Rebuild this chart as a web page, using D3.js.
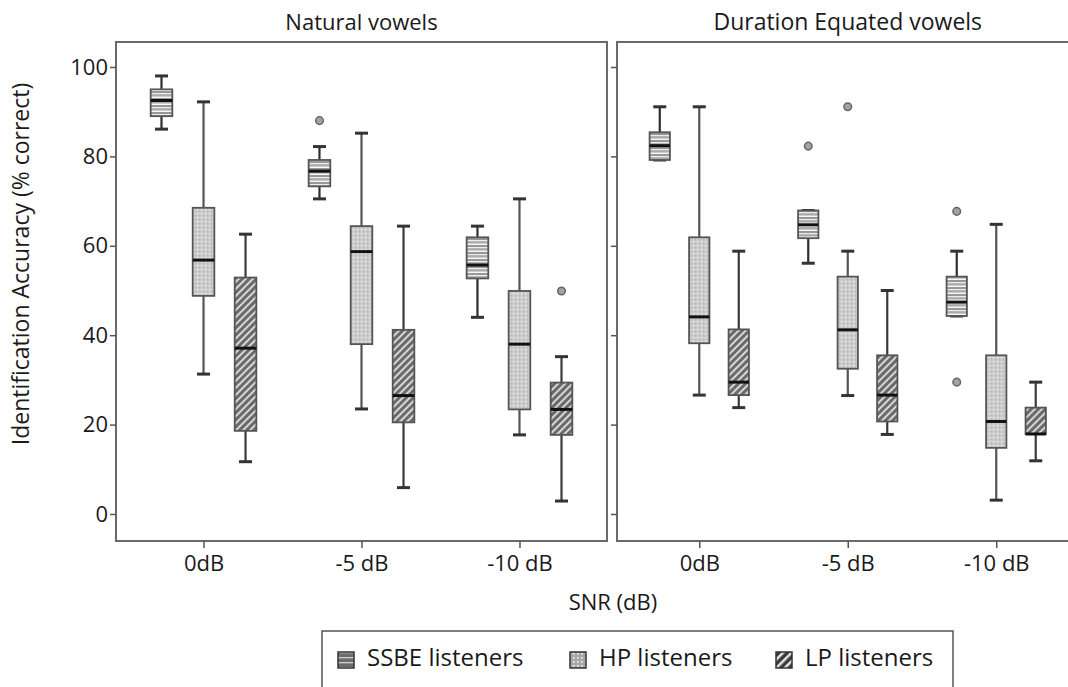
<!DOCTYPE html>
<html>
<head>
<meta charset="utf-8">
<script src="https://cdn.jsdelivr.net/npm/d3@7"></script>
<style>
  html, body { margin: 0; padding: 0; background: #fff; }
  svg { display: block; font-family: "Open Sans", "DejaVu Sans", sans-serif; }
</style>
</head>
<body>
<svg id="chart" width="1068" height="687"></svg>
<script>
// SNR conditions along the x axis, listener groups within each condition
const snrLevels = ["0dB", "-5 dB", "-10 dB"];
const listenerGroups = ["SSBE listeners", "HP listeners", "LP listeners"];
const panelTitles = ["Natural vowels", "Duration Equated vowels"];
const yTicks = [0, 20, 40, 60, 80, 100];

// Box summaries: [min, q1, median, q3, max] per SNR level (0dB, -5 dB, -10 dB)
const naturalSSBE = [[86.1, 89.0, 92.5, 95.0, 98.0], [70.5, 73.3, 76.7, 79.2, 82.2], [44.0, 52.7, 55.7, 61.9, 64.4]];
const naturalHP   = [[31.3, 48.8, 56.8, 68.5, 92.2], [23.5, 38.0, 58.7, 64.4, 85.2], [17.7, 23.4, 38.0, 49.9, 70.5]];
const naturalLP   = [[11.7, 18.6, 37.1, 52.9, 62.6], [5.9, 20.5, 26.5, 41.2, 64.4], [2.9, 17.7, 23.4, 29.4, 35.2]];
const equatedSSBE = [[79.2, 79.2, 82.4, 85.4, 91.1], [56.1, 61.7, 64.7, 67.9, 67.9], [44.3, 44.3, 47.4, 53.1, 58.8]];
const equatedHP   = [[26.6, 38.2, 44.1, 61.9, 91.1], [26.5, 32.5, 41.2, 53.1, 58.8], [3.1, 14.8, 20.7, 35.5, 64.8]];
const equatedLP   = [[23.8, 26.6, 29.5, 41.3, 58.8], [17.8, 20.7, 26.6, 35.5, 50.0], [11.9, 17.9, 17.9, 23.8, 29.5]];

// Outliers per SNR level
const naturalSSBEOut = [[], [88.0], []];
const naturalHPOut   = [[], [], []];
const naturalLPOut   = [[], [], [49.9]];
const equatedSSBEOut = [[], [82.3], [67.7, 29.5]];
const equatedHPOut   = [[], [91.1], []];
const equatedLPOut   = [[], [], []];

const panelData = [
  { title: panelTitles[0], boxes: [naturalSSBE, naturalHP, naturalLP], outliers: [naturalSSBEOut, naturalHPOut, naturalLPOut] },
  { title: panelTitles[1], boxes: [equatedSSBE, equatedHP, equatedLP], outliers: [equatedSSBEOut, equatedHPOut, equatedLPOut] }
];

const FONT = 22;
const LEGEND_FONT = 24;
const TEXT_COLOR = "#1a1a1a";

const svg = d3.select("#chart");
const defs = svg.append("defs");

// Fill textures for the three listener groups
const pSSBE = defs.append("pattern").attr("id", "fill-ssbe")
  .attr("patternUnits", "userSpaceOnUse").attr("width", 8).attr("height", 7);
pSSBE.append("rect").attr("width", 8).attr("height", 7).attr("fill", "#989898");
pSSBE.append("rect").attr("y", 2).attr("width", 8).attr("height", 1.5).attr("fill", "#ececec");
pSSBE.append("rect").attr("y", 3.5).attr("width", 8).attr("height", 2).attr("fill", "#aaaaaa");
pSSBE.append("rect").attr("y", 5.5).attr("width", 8).attr("height", 1.5).attr("fill", "#f7f7f7");

const pHP = defs.append("pattern").attr("id", "fill-hp")
  .attr("patternUnits", "userSpaceOnUse").attr("width", 4).attr("height", 4);
pHP.append("rect").attr("width", 4).attr("height", 4).attr("fill", "#c9c9c9");
pHP.append("rect").attr("x", 1).attr("y", 1).attr("width", 1.3).attr("height", 1.3).attr("fill", "#f4f4f4");
pHP.append("rect").attr("x", 3).attr("y", 3).attr("width", 1).attr("height", 1).attr("fill", "#b4b4b4");

const pLP = defs.append("pattern").attr("id", "fill-lp")
  .attr("patternUnits", "userSpaceOnUse").attr("width", 5).attr("height", 5)
  .attr("patternTransform", "rotate(45)");
pLP.append("rect").attr("width", 5).attr("height", 5).attr("fill", "#6a6a6a");
pLP.append("rect").attr("x", 0).attr("width", 2).attr("height", 5).attr("fill", "#d6d6d6");

// Darker textures for the small legend swatches
const pSSBEL = defs.append("pattern").attr("id", "fill-ssbe-legend")
  .attr("patternUnits", "userSpaceOnUse").attr("width", 8).attr("height", 5);
pSSBEL.append("rect").attr("width", 8).attr("height", 5).attr("fill", "#6c6c6c");
pSSBEL.append("rect").attr("y", 2).attr("width", 8).attr("height", 1.3).attr("fill", "#cfcfcf");

const pHPL = defs.append("pattern").attr("id", "fill-hp-legend")
  .attr("patternUnits", "userSpaceOnUse").attr("width", 4).attr("height", 4);
pHPL.append("rect").attr("width", 4).attr("height", 4).attr("fill", "#a8a8a8");
pHPL.append("rect").attr("x", 1).attr("y", 1).attr("width", 1.6).attr("height", 1.6).attr("fill", "#f4f4f4");

const pLPL = defs.append("pattern").attr("id", "fill-lp-legend")
  .attr("patternUnits", "userSpaceOnUse").attr("width", 6).attr("height", 6)
  .attr("patternTransform", "rotate(45)");
pLPL.append("rect").attr("width", 6).attr("height", 6).attr("fill", "#3a3a3a");
pLPL.append("rect").attr("x", 0).attr("width", 2.5).attr("height", 6).attr("fill", "#e6e6e6");

const fills = ["url(#fill-ssbe)", "url(#fill-hp)", "url(#fill-lp)"];
const legendFills = ["url(#fill-ssbe-legend)", "url(#fill-hp-legend)", "url(#fill-lp-legend)"];
const whiskerColor = ["#2e2e2e", "#555", "#3a3a3a"];

// Vertical scale shared by both panels
const frameTop = 42, frameBottom = 541;
const y = d3.scaleLinear().domain([0, 100]).range([514, 67]);

// Horizontal extent of each panel frame
const panelExtents = [[116, 607], [617, 1078.5]];

panelExtents.forEach((ext, pi) => {
  const pd = panelData[pi];
  const x = d3.scalePoint().domain(snrLevels).range(ext).padding(0.554);
  const step = x.step();
  const offset = 0.266 * step;
  const boxW = 0.137 * step;
  const capW = 13;

  const g = svg.append("g");

  // Panel frame
  g.append("rect")
    .attr("x", ext[0]).attr("y", frameTop)
    .attr("width", ext[1] - ext[0]).attr("height", frameBottom - frameTop)
    .attr("fill", "none").attr("stroke", "#6a6a6a").attr("stroke-width", 2);

  // Panel title
  svg.append("text")
    .attr("x", x(snrLevels[1])).attr("y", 24)
    .attr("text-anchor", "middle").attr("dominant-baseline", "middle")
    .attr("font-size", pi === 0 ? FONT : 23).attr("fill", TEXT_COLOR)
    .text(pd.title);

  // Y axis ticks on the left edge (labels only on the first panel)
  const yAxis = d3.axisLeft(y).tickValues(yTicks).tickSize(6).tickPadding(2)
    .tickFormat(pi === 0 ? d3.format("d") : () => "");
  const ya = svg.append("g").attr("transform", `translate(${ext[0]},0)`).call(yAxis);
  ya.select(".domain").remove();
  ya.selectAll(".tick line").attr("stroke", "#555").attr("stroke-width", 1.5);
  ya.selectAll(".tick text").attr("font-size", FONT).attr("fill", TEXT_COLOR)
    .attr("font-family", "'Open Sans', sans-serif");

  // X axis ticks below the frame
  const xAxis = d3.axisBottom(x).tickSize(7).tickPadding(7);
  const xa = svg.append("g").attr("transform", `translate(0,${frameBottom})`).call(xAxis);
  xa.select(".domain").remove();
  xa.selectAll(".tick line").attr("stroke", "#555").attr("stroke-width", 1.5);
  xa.selectAll(".tick text").attr("font-size", FONT).attr("fill", TEXT_COLOR)
    .attr("font-family", "'Open Sans', sans-serif");

  // Boxes
  listenerGroups.forEach((grp, gi) => {
    snrLevels.forEach((lvl, li) => {
      const [mn, q1, med, q3, mx] = pd.boxes[gi][li];
      const cx = x(lvl) + (gi - 1) * offset;
      const bg = g.append("g");
      const wc = whiskerColor[gi];

      // whiskers
      bg.append("line").attr("x1", cx).attr("x2", cx).attr("y1", y(mx)).attr("y2", y(q3))
        .attr("stroke", wc).attr("stroke-width", 2.2);
      bg.append("line").attr("x1", cx).attr("x2", cx).attr("y1", y(q1)).attr("y2", y(mn))
        .attr("stroke", wc).attr("stroke-width", 2.2);
      [mn, mx].forEach(v => {
        bg.append("line").attr("x1", cx - capW / 2).attr("x2", cx + capW / 2)
          .attr("y1", y(v)).attr("y2", y(v))
          .attr("stroke", "#333").attr("stroke-width", 3);
      });

      // box
      bg.append("rect")
        .attr("x", cx - boxW / 2).attr("y", y(q3))
        .attr("width", boxW).attr("height", y(q1) - y(q3))
        .attr("fill", fills[gi]).attr("stroke", "#555").attr("stroke-width", 1.8);

      // median
      bg.append("line").attr("x1", cx - boxW / 2).attr("x2", cx + boxW / 2)
        .attr("y1", y(med)).attr("y2", y(med))
        .attr("stroke", "#111").attr("stroke-width", 3);

      // outliers
      pd.outliers[gi][li].forEach(v => {
        bg.append("circle").attr("cx", cx).attr("cy", y(v)).attr("r", 3.8)
          .attr("fill", "#a3a3a3").attr("stroke", "#666").attr("stroke-width", 1.5);
      });
    });
  });
});

// Axis titles
svg.append("text")
  .attr("transform", "translate(23,264) rotate(-90)")
  .attr("text-anchor", "middle").attr("dominant-baseline", "middle")
  .attr("font-size", 23).attr("fill", TEXT_COLOR)
  .text("Identification Accuracy (% correct)");

svg.append("text")
  .attr("x", 613).attr("y", 604)
  .attr("text-anchor", "middle").attr("dominant-baseline", "middle")
  .attr("font-size", FONT).attr("fill", TEXT_COLOR)
  .text("SNR (dB)");

// Legend
const legend = svg.append("g");
legend.append("rect")
  .attr("x", 322).attr("y", 631).attr("width", 631).attr("height", 70)
  .attr("fill", "#fff").attr("stroke", "#555").attr("stroke-width", 1.5);

const legendIconX = [338, 570, 776];
listenerGroups.forEach((grp, gi) => {
  legend.append("rect")
    .attr("x", legendIconX[gi]).attr("y", 652).attr("width", 16).attr("height", 16)
    .attr("fill", legendFills[gi]).attr("stroke", "#333").attr("stroke-width", 1.5);
  legend.append("text")
    .attr("x", legendIconX[gi] + 29).attr("y", 660)
    .attr("dominant-baseline", "middle")
    .attr("font-size", LEGEND_FONT).attr("fill", TEXT_COLOR)
    .text(grp);
});
</script>
</body>
</html>
